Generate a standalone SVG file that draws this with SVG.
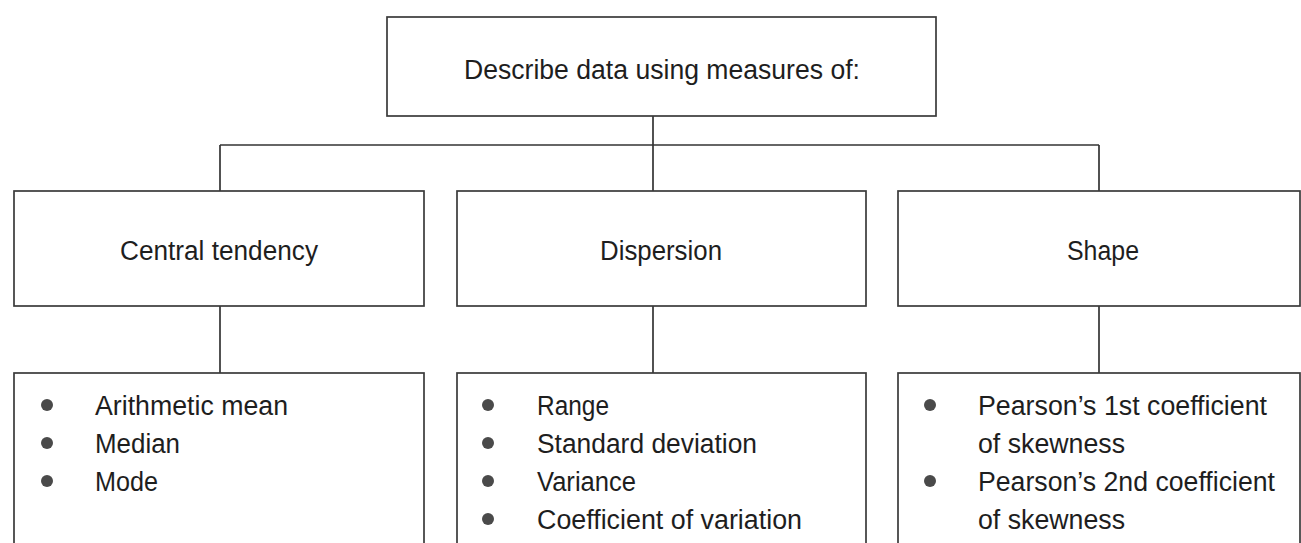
<svg xmlns="http://www.w3.org/2000/svg" width="1301" height="543" viewBox="0 0 1301 543">
  <style>
    .box { fill: #ffffff; stroke: #3a3a3a; stroke-width: 1.7; }
    .wire { fill: none; stroke: #333333; stroke-width: 1.7; }
    .lbl { font-family: "Liberation Sans Narrow", "Liberation Sans", Arial, sans-serif; font-size: 27px; fill: #1e1e1e; }
    .mid { text-anchor: middle; }
    .dot { fill: #4a4a4a; }
  </style>
  <rect width="1301" height="543" fill="#ffffff"/>

  <g id="connectors">
    <line class="wire" x1="653" y1="116" x2="653" y2="191"/>
    <line class="wire" x1="220" y1="145" x2="1099" y2="145"/>
    <line class="wire" x1="220" y1="145" x2="220" y2="191"/>
    <line class="wire" x1="1099" y1="145" x2="1099" y2="191"/>
    <line class="wire" x1="220" y1="306" x2="220" y2="373"/>
    <line class="wire" x1="653" y1="306" x2="653" y2="373"/>
    <line class="wire" x1="1099" y1="306" x2="1099" y2="373"/>
  </g>

  <g id="root">
    <rect class="box" x="387" y="17" width="549" height="99"/>
    <text class="lbl mid" x="662" y="79" textLength="396" lengthAdjust="spacingAndGlyphs">Describe data using measures of:</text>
  </g>

  <g id="central-tendency">
    <rect class="box" x="14" y="191" width="410" height="115"/>
    <text class="lbl mid" x="219" y="260" textLength="198" lengthAdjust="spacingAndGlyphs">Central tendency</text>
  </g>

  <g id="dispersion">
    <rect class="box" x="457" y="191" width="409" height="115"/>
    <text class="lbl mid" x="661" y="260" textLength="122" lengthAdjust="spacingAndGlyphs">Dispersion</text>
  </g>

  <g id="shape">
    <rect class="box" x="898" y="191" width="402" height="115"/>
    <text class="lbl mid" x="1103" y="260" textLength="72" lengthAdjust="spacingAndGlyphs">Shape</text>
  </g>

  <g id="central-tendency-list">
    <rect class="box" x="14" y="373" width="410" height="190"/>
    <circle class="dot" cx="47" cy="405" r="6"/>
    <circle class="dot" cx="47" cy="443" r="6"/>
    <circle class="dot" cx="47" cy="481" r="6"/>
    <text class="lbl" x="95" y="415" textLength="193" lengthAdjust="spacingAndGlyphs">Arithmetic mean</text>
    <text class="lbl" x="95" y="453" textLength="85" lengthAdjust="spacingAndGlyphs">Median</text>
    <text class="lbl" x="95" y="491" textLength="63" lengthAdjust="spacingAndGlyphs">Mode</text>
  </g>

  <g id="dispersion-list">
    <rect class="box" x="457" y="373" width="409" height="190"/>
    <circle class="dot" cx="488" cy="405" r="6"/>
    <circle class="dot" cx="488" cy="443" r="6"/>
    <circle class="dot" cx="488" cy="481" r="6"/>
    <circle class="dot" cx="488" cy="519" r="6"/>
    <text class="lbl" x="537" y="415" textLength="72" lengthAdjust="spacingAndGlyphs">Range</text>
    <text class="lbl" x="537" y="453" textLength="220" lengthAdjust="spacingAndGlyphs">Standard deviation</text>
    <text class="lbl" x="537" y="491" textLength="99" lengthAdjust="spacingAndGlyphs">Variance</text>
    <text class="lbl" x="537" y="529" textLength="265" lengthAdjust="spacingAndGlyphs">Coefficient of variation</text>
  </g>

  <g id="shape-list">
    <rect class="box" x="898" y="373" width="402" height="190"/>
    <circle class="dot" cx="930" cy="405" r="6"/>
    <circle class="dot" cx="930" cy="481" r="6"/>
    <text class="lbl" x="978" y="415" textLength="289" lengthAdjust="spacingAndGlyphs">Pearson’s 1st coefficient</text>
    <text class="lbl" x="978" y="453" textLength="147" lengthAdjust="spacingAndGlyphs">of skewness</text>
    <text class="lbl" x="978" y="491" textLength="297" lengthAdjust="spacingAndGlyphs">Pearson’s 2nd coefficient</text>
    <text class="lbl" x="978" y="529" textLength="147" lengthAdjust="spacingAndGlyphs">of skewness</text>
  </g>
</svg>
